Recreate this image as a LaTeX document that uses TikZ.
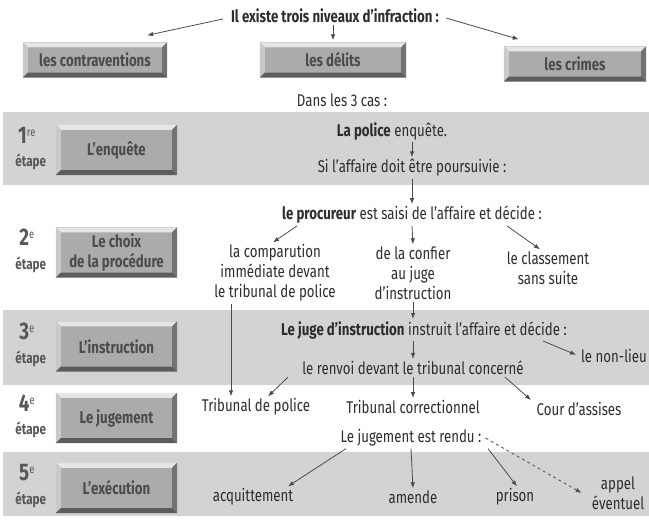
\documentclass[tikz,border=0pt]{standalone}
\usepackage{fontspec}
\setmainfont{Fira Sans}[FakeStretch=0.78]
\usepackage{xcolor}
\usetikzlibrary{calc,
	positioning,
	arrows.meta}
\definecolor{bande}{HTML}{D3D3D3}
\definecolor{face}{HTML}{ABABAB}
\definecolor{clair}{HTML}{E6E6E6}
\definecolor{clairg}{HTML}{C9C9C9}
\definecolor{sombre}{HTML}{727272}
\definecolor{sombreb}{HTML}{5C5C5C}
\definecolor{encre}{HTML}{2D2D2D}
\tikzstyle{tx}=[text=encre, inner sep=2pt, align=center,
		font=\fontsize{17}{20}\selectfont]
\tikzstyle{bt}=[fill=face, text=encre!85, inner sep=0,
		font=\fontsize{17}{20}\selectfont\bfseries, align=center]
\tikzstyle{haut}=[bt, minimum height=35pt]
\tikzstyle{etp}=[bt, minimum width=121pt, minimum height=50pt]
\tikzstyle{num}=[text=encre!80, inner sep=0, font=\fontsize{24}{24}\selectfont\bfseries]
\tikzstyle{eta}=[text=encre!80, inner sep=0, font=\fontsize{15}{15}\selectfont\bfseries]
\tikzstyle{fl}=[draw=encre!85, line width=0.8pt, -{Latex[length=6pt,width=4.5pt]}]
\newcommand\biseau[1]{%
	\fill[clair] (#1.north west) -- (#1.north east) -- ([shift={(-5,5)}]#1.north east) -- ([shift={(5,5)}]#1.north west) -- cycle;
	\fill[clairg] (#1.north west) -- ([shift={(5,5)}]#1.north west) -- ([shift={(5,-5)}]#1.south west) -- (#1.south west) -- cycle;
	\fill[sombre] (#1.north east) -- (#1.south east) -- ([shift={(-5,-5)}]#1.south east) -- ([shift={(-5,5)}]#1.north east) -- cycle;
	\fill[sombreb] (#1.south west) -- (#1.south east) -- ([shift={(-5,-5)}]#1.south east) -- ([shift={(5,-5)}]#1.south west) -- cycle;}
\newcommand\exposant[1]{\raisebox{7pt}{\fontsize{12}{12}\selectfont\mdseries #1}}

\begin{document}
\begin{tikzpicture}[x=1pt, y=-1pt]
	\useasboundingbox (0,0) rectangle (649,521);
	% bandes grises
	\fill[bande] (3,112) rectangle (649,185);
	\fill[bande] (3,310) rectangle (649,385);
	\fill[bande] (3,452) rectangle (649,516);

	% les trois niveaux
	\node[tx, font=\fontsize{17}{20}\selectfont\bfseries] (titre) at (335,16) {Il existe trois niveaux d'infraction :};
	\node[haut, minimum width=144pt] (contrav) at (95,60) {les contraventions};
	\node[haut, minimum width=146pt] (delits) at (333,60) {les délits};
	\node[haut, minimum width=142pt] (crimes) at (575,64) {les crimes};
	\node[tx] (cas) at (342,100) {Dans les 3 cas :};

	% les etapes
	\node[etp] (enquete) at (116.5,150) {L'enquête};
	\node[etp] (choix) at (116.5,252.5) {Le choix\\de la procédure};
	\node[etp] (instr) at (116.5,346.5) {L'instruction};
	\node[etp] (jugmt) at (116.5,418) {Le jugement};
	\node[etp] (exec) at (116.5,488) {L'exécution};
	\foreach \b in {contrav,delits,crimes,enquete,choix,instr,jugmt,exec}
		\biseau{\b};
	\foreach \b/\n/\s in {enquete/1/re, choix/2/e, instr/3/e, jugmt/4/e, exec/5/e} {
		\node[num] (\b-n) at ($(\b.west)+(-29,-15)$) {\n\exposant{\s}};
		\node[eta] (\b-e) at ($(\b.west)+(-25,12)$) {étape};
	}

	% 1re etape
	\node[tx] (police) at (392,131) {\textbf{La police} enquête.};
	\node[tx] (si) at (412,168) {Si l'affaire doit être poursuivie :};
	\node[tx] (proc) at (412,215) {\textbf{le procureur} est saisi de l'affaire et décide :};

	% 2e etape
	\node[tx] (comp) at (275,273) {la comparution\\immédiate devant\\le tribunal de police};
	\node[tx] (confier) at (413,273) {de la confier\\au juge\\d'instruction};
	\node[tx] (class) at (548,268) {le classement\\sans suite};

	% 3e etape
	\node[tx] (juge) at (424,330) {\textbf{Le juge d'instruction} instruit l'affaire et décide :};
	\node[tx] (renvoi) at (413,368) {le renvoi devant le tribunal concerné};
	\node[tx] (nonlieu) at (614,356) {le non-lieu};

	% 4e etape
	\node[tx] (tpol) at (256,407) {Tribunal de police};
	\node[tx] (tcorr) at (413,407) {Tribunal correctionnel};
	\node[tx] (assises) at (579,409) {Cour d'assises};
	\node[tx] (rendu) at (411,438) {Le jugement est rendu :};

	% 5e etape
	\node[tx] (acquit) at (253,497) {acquittement};
	\node[tx] (amende) at (413,497) {amende};
	\node[tx] (prison) at (515,497) {prison};
	\node[tx] (appel) at (618,493) {appel\\éventuel};

	% fleches
	\draw[fl] ([xshift=-6pt,yshift=-3pt]titre.west) -- ([xshift=-20pt,yshift=7pt]contrav.north east);
	\draw[fl] (titre.south -| delits.north) -- ([yshift=2pt]delits.north);
	\draw[fl] ([xshift=5pt,yshift=-2pt]titre.east) -- ([xshift=15pt,yshift=7pt]crimes.north west);
	\draw[fl] (police.south -| si.north) -- (si.north);
	\draw[fl] (si.south) -- (proc.north);
	\draw[fl] ([xshift=-115pt]proc.south) -- ([xshift=-2pt]comp.north);
	\draw[fl] (proc.south) -- (confier.north);
	\draw[fl] ([xshift=95pt]proc.south) -- ([xshift=-8pt]class.north);
	\coordinate (pied) at ([xshift=-25pt]tpol.north);
	\draw[draw=encre!85, line width=0.8pt] (pied |- comp.south) -- (pied |- instr.north);
	\draw[fl] (pied |- instr.north) -- (pied);
	\draw[fl] (confier.south) -- (confier.south |- juge.north);
	\draw[fl] (juge.south -| renvoi.north) -- (renvoi.north);
	\draw[fl, shorten >=3pt] ([xshift=-26pt]juge.south east) -- (nonlieu.west);
	\draw[fl] ([xshift=-125pt]renvoi.south) -- ([xshift=12pt]tpol.north);
	\draw[fl] (renvoi.south) -- (tcorr.north);
	\draw[fl] ([xshift=92pt]renvoi.south) -- ([xshift=-48pt]assises.north);
	\draw[fl] ([xshift=-65pt]rendu.south) -- ([xshift=35pt]acquit.north);
	\draw[fl] (rendu.south) -- (amende.north);
	\draw[fl] ([xshift=77pt]rendu.south) -- ([xshift=2pt]prison.north);
	\draw[fl, dashed] ([xshift=2pt]rendu.east) -- ([xshift=-8pt]appel.west);
\end{tikzpicture}
\end{document}
